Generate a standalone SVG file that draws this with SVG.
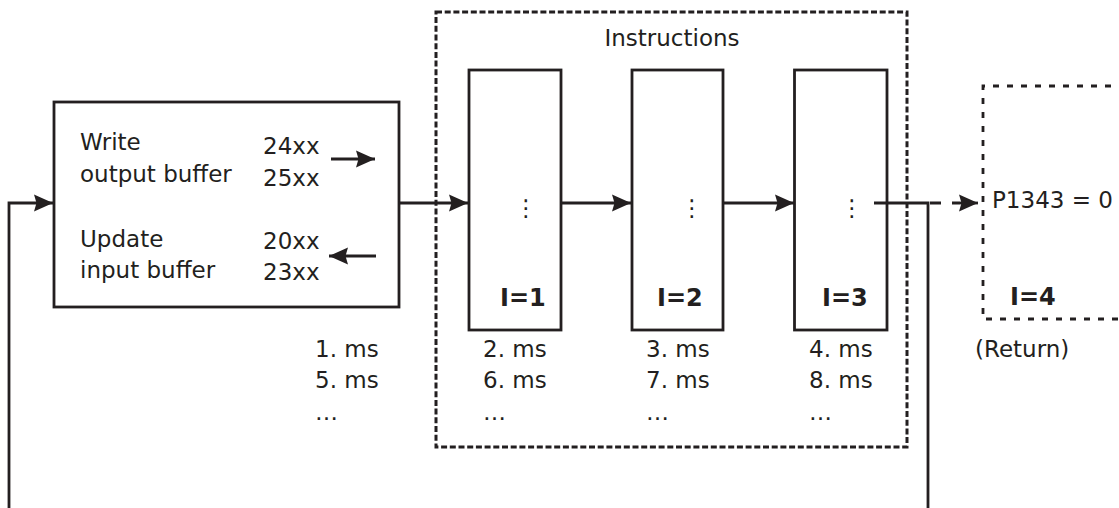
<svg xmlns="http://www.w3.org/2000/svg" width="1119" height="508" viewBox="0 0 1119 508">
<defs>
<style>
.t{font-family:"DejaVu Sans",Verdana,sans-serif;font-size:23px;fill:#231f20}
.b{font-family:"DejaVu Sans",Verdana,sans-serif;font-size:24px;font-weight:bold;fill:#231f20}
.box{fill:#fff;stroke:#231f20;stroke-width:2.8}
.dash1{fill:none;stroke:#231f20;stroke-width:3;stroke-dasharray:6 2.7}
.dash2{fill:none;stroke:#231f20;stroke-width:2.8;stroke-dasharray:6 8}
.c{fill:none;stroke:#231f20;stroke-width:2.8}
</style>
<marker id="ah" markerUnits="userSpaceOnUse" markerWidth="22" markerHeight="20" refX="19" refY="9" orient="auto">
<path d="M0,0.5 L19,9 L0,17.5 L2.5,9 z" fill="#231f20"/>
</marker>
</defs>
<rect width="1119" height="508" fill="#fff"/>
<g id="instructions-group">
<rect class="dash1" x="436" y="12" width="471" height="435"/>
<text class="t" x="672" y="46" text-anchor="middle">Instructions</text>
</g>
<g id="buffer-node">
<rect class="box" x="54" y="102" width="345" height="205"/>
<text class="t" x="80" y="150">Write</text>
<text class="t" x="80" y="182">output buffer</text>
<text class="t" x="263" y="154">24xx</text>
<text class="t" x="263" y="186">25xx</text>
<text class="t" x="80" y="247">Update</text>
<text class="t" x="80" y="278">input buffer</text>
<text class="t" x="263" y="249">20xx</text>
<text class="t" x="263" y="280">23xx</text>
</g>
<g id="instr1">
<rect class="box" x="469" y="70" width="92" height="260"/>
<text class="t" x="526" y="216" text-anchor="middle">⋮</text>
<text class="b" x="500" y="306">I=1</text>
</g>
<g id="instr2">
<rect class="box" x="632" y="70" width="91" height="260"/>
<text class="t" x="692" y="216" text-anchor="middle">⋮</text>
<text class="b" x="657" y="306">I=2</text>
</g>
<g id="instr3">
<rect class="box" x="794.5" y="70" width="92.5" height="260"/>
<text class="t" x="852" y="216" text-anchor="middle">⋮</text>
<text class="b" x="822" y="306">I=3</text>
</g>
<g id="instr4">
<path class="dash2" d="M1125,86 H983 V319 H1125"/>
<text class="t" x="992" y="208">P1343 = 0</text>
<text class="b" x="1010" y="305">I=4</text>
<text class="t" x="975" y="357">(Return)</text>
</g>
<g id="timing">
<text class="t" x="315" y="357">1. ms</text>
<text class="t" x="315" y="388">5. ms</text>
<text class="t" x="315" y="420">…</text>
<text class="t" x="483" y="357">2. ms</text>
<text class="t" x="483" y="388">6. ms</text>
<text class="t" x="483" y="420">…</text>
<text class="t" x="646" y="357">3. ms</text>
<text class="t" x="646" y="388">7. ms</text>
<text class="t" x="646" y="420">…</text>
<text class="t" x="809" y="357">4. ms</text>
<text class="t" x="809" y="388">8. ms</text>
<text class="t" x="809" y="420">…</text>
</g>
<g id="connectors">
<path class="c" d="M9,508 V203 H53" marker-end="url(#ah)"/>
<path class="c" d="M399,203 H468" marker-end="url(#ah)"/>
<path class="c" d="M561,203 H631" marker-end="url(#ah)"/>
<path class="c" d="M723,203 H794" marker-end="url(#ah)"/>
<path class="c" d="M874,203 H928 V508"/>
<path class="c" d="M930,203 H960" stroke-dasharray="11 11"/>
<path class="c" d="M960,203 H978" marker-end="url(#ah)"/>
<path class="c" d="M331,159 H375" marker-end="url(#ah)"/>
<path class="c" d="M376,256 H329" marker-end="url(#ah)"/>
</g>
</svg>
